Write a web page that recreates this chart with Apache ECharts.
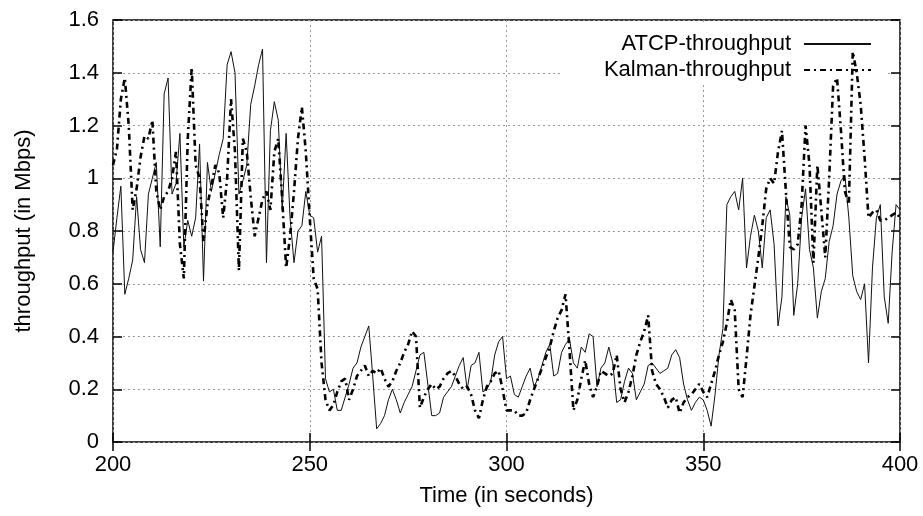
<!DOCTYPE html>
<html>
<head>
<meta charset="utf-8">
<script src="https://cdn.jsdelivr.net/npm/echarts@6/dist/echarts.min.js"></script>
<style>
html,body{margin:0;padding:0;background:#fff;}
#chart{width:923px;height:516px;}
</style>
</head>
<body>
<div id="chart"></div>
<script>
// Time axis (seconds), 1-second samples
const startTime = 200;
const endTime = 400;
const xTicks = [200, 250, 300, 350, 400];
const yTicks = [0, 0.2, 0.4, 0.6, 0.8, 1, 1.2, 1.4, 1.6];
const seriesNames = ['ATCP-throughput', 'Kalman-throughput'];

// ATCP-throughput (Mbps), t = 200..400
const atcp = [
  0.72, 0.85, 0.97, 0.56, 0.62, 0.69, 0.93, 0.73, 0.68, 0.94,
  1.00, 1.06, 0.74, 1.32, 1.38, 0.94, 0.98, 1.17, 0.74, 0.84,
  0.78, 0.85, 1.13, 0.61, 1.06, 0.95, 1.02, 1.09, 1.15, 1.43,
  1.48, 1.40, 0.94, 0.99, 1.05, 1.28, 1.35, 1.43, 1.49, 0.68,
  1.18, 1.29, 1.22, 0.88, 1.17, 0.85, 0.68, 0.80, 0.82, 0.95,
  0.86, 0.85, 0.72, 0.78, 0.24, 0.19, 0.20, 0.12,
  0.12, 0.17, 0.22, 0.28, 0.30, 0.36, 0.40, 0.44, 0.25, 0.05,
  0.07, 0.10, 0.16, 0.20, 0.16, 0.11, 0.15, 0.18, 0.21, 0.27,
  0.33, 0.34, 0.22, 0.10, 0.10, 0.11, 0.17, 0.19, 0.21, 0.25,
  0.29, 0.32, 0.20,
  0.29, 0.30, 0.34, 0.19, 0.20, 0.23, 0.33, 0.38, 0.40, 0.24,
  0.25, 0.18, 0.17, 0.21, 0.25, 0.28, 0.21, 0.24, 0.29, 0.34,
  0.37, 0.25, 0.26, 0.34, 0.37, 0.39, 0.30, 0.28, 0.36, 0.34,
  0.41, 0.40, 0.21,
  0.28, 0.30, 0.36, 0.30, 0.15, 0.16, 0.23, 0.28, 0.26, 0.16,
  0.19, 0.22, 0.29, 0.30, 0.28, 0.26, 0.27, 0.28, 0.33, 0.35,
  0.32, 0.22, 0.16, 0.12, 0.15, 0.17, 0.16, 0.12, 0.06, 0.18,
  0.33, 0.43,
  0.90, 0.93, 0.95, 0.88, 1.00, 0.66, 0.78, 0.86, 0.80, 0.66,
  0.85, 0.88, 0.75, 0.44, 0.55, 0.93, 0.86, 0.48, 0.60, 0.85,
  0.96, 0.73, 0.66, 0.47, 0.57, 0.62, 0.76, 0.82, 0.94, 0.99,
  1.01, 0.85, 0.63, 0.57, 0.54, 0.60, 0.30, 0.66, 0.85, 0.90,
  0.55, 0.45, 0.72, 0.90, 0.88
];

// Kalman-throughput (Mbps), t = 200..400
const kalman = [
  1.05, 1.11, 1.30, 1.38, 1.20, 0.88, 0.96, 1.08, 1.16, 1.15,
  1.22, 0.95, 0.88, 0.93, 0.95, 1.00, 1.10, 0.75, 0.62, 1.15,
  1.42, 1.05, 1.00, 0.76, 0.90, 0.97, 1.05, 1.02, 0.85,
  1.00, 1.30, 1.10, 0.65, 1.15, 1.10, 0.93, 0.78, 0.85, 0.92,
  0.95, 0.88, 1.10, 1.15, 0.92, 0.66, 0.78, 0.95, 1.15, 1.27,
  1.10, 0.85, 0.62, 0.58, 0.30, 0.16, 0.12, 0.14, 0.19,
  0.23, 0.24, 0.16, 0.20, 0.25, 0.27, 0.29, 0.25, 0.27, 0.26,
  0.28, 0.24, 0.21, 0.23, 0.27, 0.30, 0.34, 0.37, 0.42, 0.40,
  0.13, 0.17, 0.20, 0.22, 0.20, 0.21, 0.24, 0.26, 0.27, 0.25,
  0.22, 0.20, 0.21,
  0.18, 0.12, 0.09, 0.16, 0.21, 0.23, 0.26, 0.27, 0.20, 0.12,
  0.12, 0.12, 0.10, 0.10, 0.11, 0.16, 0.20, 0.24, 0.28, 0.32,
  0.36, 0.42, 0.47, 0.50, 0.56, 0.35, 0.12, 0.16, 0.24, 0.31,
  0.22, 0.17, 0.21,
  0.27, 0.26, 0.25, 0.26, 0.33, 0.20, 0.15, 0.19, 0.25, 0.33,
  0.38, 0.42, 0.48, 0.27, 0.22, 0.20, 0.17, 0.13, 0.16, 0.17,
  0.11, 0.15, 0.17, 0.18, 0.20, 0.22, 0.19, 0.17, 0.22, 0.27,
  0.33, 0.38, 0.45,
  0.54, 0.50, 0.20, 0.17, 0.32, 0.48, 0.59, 0.70, 0.82, 0.96,
  1.00, 0.98, 1.10, 1.18, 0.95, 0.74, 0.73, 0.75, 0.90, 1.20,
  1.05, 0.68, 1.05, 0.88, 0.70, 1.00, 1.35, 1.38, 1.18, 0.95,
  0.90, 1.48, 1.40, 1.28, 1.08, 0.85, 0.87, 0.88, 0.84, 0.84,
  0.85, 0.86, 0.87, 0.85
];

const times = atcp.map((_, i) => startTime + i);
const atcpData = times.map((t, i) => [t, atcp[i]]);
const kalmanData = times.map((t, i) => [t, kalman[i]]);

const FONT = '"Liberation Sans", Arial, sans-serif';
const FS = 22;
const gridLine = { show: true, lineStyle: { color: '#9a9a9a', type: [2, 3], width: 1 } };

const chart = echarts.init(document.getElementById('chart'), null, { renderer: 'canvas' });
chart.setOption({
  backgroundColor: '#fff',
  animation: false,
  textStyle: { fontFamily: FONT },
  grid: { left: 113, right: 23, top: 20, bottom: 74, show: true, borderColor: '#000', borderWidth: 1.5, backgroundColor: 'transparent' },
  graphic: {
    elements: [{
      type: 'rect', z: 1,
      shape: { x: 563, y: 22, width: 322, height: 60 },
      style: { fill: '#fff' }
    }]
  },
  legend: {
    show: true,
    data: seriesNames,
    orient: 'vertical',
    align: 'right',
    right: 46,
    top: 28,
    itemWidth: 67,
    itemHeight: 16,
    itemGap: 4,
    itemStyle: { color: 'rgba(0,0,0,0)', borderWidth: 0, opacity: 0 },
    textStyle: { fontSize: FS, color: '#000', fontFamily: FONT, padding: [0, 8, 0, 0] },
    selectedMode: false
  },
  xAxis: [{
    type: 'value',
    min: startTime, max: endTime, interval: 50,
    name: 'Time (in seconds)',
    nameLocation: 'middle', nameGap: 43,
    nameTextStyle: { fontSize: FS, color: '#000', fontFamily: FONT },
    axisLine: { show: false },
    axisTick: { show: true, inside: true, length: 9, lineStyle: { color: '#000', width: 1.5 } },
    axisLabel: { fontSize: FS, color: '#000', margin: 12, fontFamily: FONT },
    splitLine: gridLine
  }, {
    type: 'value', position: 'top',
    min: startTime, max: endTime, interval: 50,
    axisLine: { show: false },
    axisTick: { show: true, inside: true, length: 9, lineStyle: { color: '#000', width: 1.5 } },
    axisLabel: { show: false },
    splitLine: { show: false }
  }],
  yAxis: [{
    type: 'value',
    min: 0, max: 1.6, interval: 0.2,
    name: 'throughput (in Mbps)',
    nameLocation: 'middle', nameGap: 78, nameRotate: 90,
    nameTextStyle: { fontSize: FS, color: '#000', fontFamily: FONT },
    axisLine: { show: false },
    axisTick: { show: true, inside: true, length: 9, lineStyle: { color: '#000', width: 1.5 } },
    axisLabel: { fontSize: FS, color: '#000', margin: 14, fontFamily: FONT },
    splitLine: gridLine
  }, {
    type: 'value', position: 'right',
    min: 0, max: 1.6, interval: 0.2,
    axisLine: { show: false },
    axisTick: { show: true, inside: true, length: 9, lineStyle: { color: '#000', width: 1.5 } },
    axisLabel: { show: false },
    splitLine: { show: false }
  }],
  series: [{
    name: seriesNames[0],
    type: 'line',
    data: atcpData,
    symbol: 'none',
    z: 3,
    lineStyle: { color: '#111', width: 1 },
    itemStyle: { color: '#111' }
  }, {
    name: seriesNames[1],
    type: 'line',
    data: kalmanData,
    symbol: 'none',
    z: 4,
    lineStyle: { color: '#000', width: 2.6, type: [6, 4, 2, 4] },
    itemStyle: { color: '#000' }
  }]
});
</script>
</body>
</html>
